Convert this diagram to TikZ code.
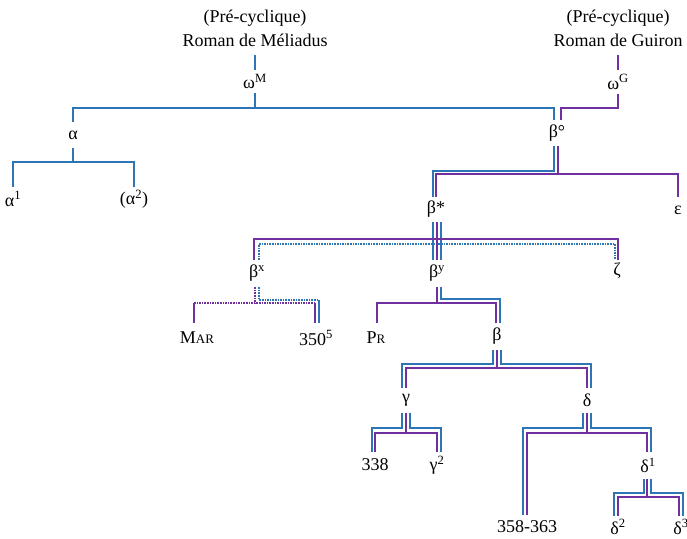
\documentclass[tikz,border=0pt]{standalone}
\usepackage{fontspec}
\setmainfont{Liberation Serif}
\usetikzlibrary{calc}
\definecolor{mblue}{HTML}{2E75B6}
\definecolor{mpurple}{HTML}{7030A0}
\newcommand\smc[1]{{\fontsize{13}{12}\selectfont #1}}
\begin{document}
\begin{tikzpicture}[x=1pt,y=1pt, font=\fontsize{18}{24}\selectfont,
  lab/.style={inner sep=0pt, minimum height=#1, anchor=center},
  lab/.default=24pt,
  head/.style={inner sep=0pt, anchor=south, align=center},
  blu/.style={draw=mblue, line width=1.7pt},
  pur/.style={draw=mpurple, line width=1.7pt},
  dotln/.style={dash pattern=on 1.6pt off 1pt}]
\useasboundingbox (0,0) rectangle (687,538);

% headings
\node[head] (mel) at (255,491) {(Pré-cyclique)\\Roman de Méliadus};
\node[head] (gui) at (618,491) {(Pré-cyclique)\\Roman de Guiron};

% labels
\node[lab=23pt] (wM) at (255,456.5) {ω\textsuperscript{M}};
\node[lab=24pt] (wG) at (618,456) {ω\textsuperscript{G}};
\node[lab=26pt] (al) at (73,403) {α};
\node[lab=24pt] (al1) at (13,339) {α\textsuperscript{1}};
\node[lab=24pt] (al2) at (134,339) {(α\textsuperscript{2})};
\node[lab=26pt] (be0) at (557,405) {β°};
\node[lab=25pt] (bst) at (436,328.5) {β*};
\node[lab=26pt] (eps) at (678,328) {ε};
\node[lab=27pt] (bx) at (257,264.5) {β\textsuperscript{x}};
\node[lab=27pt] (by) at (437,264.5) {β\textsuperscript{y}};
\node[lab=22pt] (zeta) at (617,267) {ζ};
\node[lab=30pt] (mar) at (197,200) {M\smc{AR}};
\node[lab=30pt] (n350) at (316,200) {350\textsuperscript{5}};
\node[lab=30pt] (pr) at (376,200) {P\smc{R}};
\node[lab=27pt] (beta) at (497,201.5) {β};
\node[lab=25pt] (gam) at (406,137.5) {γ};
\node[lab=25pt] (del) at (587,137.5) {δ};
\node[lab=26pt] (n338) at (375,73) {338};
\node[lab=26pt] (gam2) at (437,73) {γ\textsuperscript{2}};
\node[lab=27pt] (del1) at (648,72.5) {δ\textsuperscript{1}};
\node[lab=24pt] (n358) at (527,11) {358-363};
\node[lab=22pt] (del2) at (618,11) {δ\textsuperscript{2}};
\node[lab=22pt] (del3) at (681,11) {δ\textsuperscript{3}};

% dotted connectors (drawn first)
\draw[blu,dotln] ([xshift=2pt]bx.north) |- ([xshift=-3pt,yshift=-22pt]bst.south) -| ([xshift=-2pt]zeta.north);
\draw[pur,dotln] ([xshift=-2pt]bx.south) -- ++(0,-16pt) coordinate (jx);
\draw[pur,dotln] ([xshift=-3pt]mar.north |- jx) -- ([xshift=-1pt]n350.north |- jx);
\draw[blu,dotln] ([xshift=2pt]bx.south) |- ([xshift=3pt,yshift=23pt]n350.north);

% top
\draw[blu] ([yshift=-8pt]mel.south) -- (wM.north);
\draw[pur] ([yshift=-8pt]gui.south) -- (wG.north);
\draw[blu] (wM.south) -- ++(0,-15pt) coordinate (jM);
\draw[blu] (al.north) |- (jM) -| ([xshift=-3pt]be0.north);
\draw[pur] (wG.south) -- ++(0,-14pt) -| ([xshift=4pt]be0.north);

% alpha
\draw[blu] (al.south) -- ++(0,-14pt) coordinate (ja);
\draw[blu] (al1.north) |- (ja) -| (al2.north);

% beta degree
\draw[blu] ([xshift=-3pt]be0.south) -- ++(0,-25pt) -| ([xshift=-3pt]bst.north);
\draw[pur] ([xshift=1pt]be0.south) -- ++(0,-28pt) coordinate (jb);
\draw[pur] (bst.north) |- (jb) -| (eps.north);

% beta star
\draw[pur] ([xshift=1pt]bst.south) -- (by.north);
\draw[blu] ([xshift=-3pt]bst.south) -- ([xshift=-4pt]by.north);
\draw[blu] ([xshift=5pt]bst.south) -- ([xshift=4pt]by.north);
\coordinate (jbs) at ([xshift=1pt,yshift=-17pt]bst.south);
\draw[pur] ([xshift=-3pt]bx.north) |- (jbs) -| ([xshift=1pt]zeta.north);

% beta x
\draw[pur] ([xshift=-3pt]mar.north) -- ([xshift=-3pt]mar.north |- jx);
\draw[pur] ([xshift=-1pt]n350.north) -- ([xshift=-1pt]n350.north |- jx);
\draw[blu] ([xshift=3pt]n350.north) -- ++(0,23pt);

% beta y
\draw[pur] (by.south) -- ++(0,-16pt) coordinate (jy);
\draw[pur] ([xshift=1pt]pr.north) |- (jy) -| ([xshift=-1pt]beta.north);
\draw[blu] ([xshift=4pt]by.south) -- ++(0,-12pt) -| ([xshift=3pt]beta.north);

% beta
\draw[blu] ([xshift=-4pt]beta.south) -- ++(0,-14pt) -| ([xshift=-4pt]gam.north);
\draw[pur] (beta.south) -- ++(0,-18pt) coordinate (jbe);
\draw[pur] (gam.north) |- (jbe) -| (del.north);
\draw[blu] ([xshift=4pt]beta.south) -- ++(0,-14pt) -| ([xshift=4pt]del.north);

% gamma
\draw[blu] ([xshift=-4pt]gam.south) -- ++(0,-15pt) -| ([xshift=-3pt]n338.north);
\draw[pur] (gam.south) -- ++(0,-20pt) coordinate (jg);
\draw[pur] (n338.north) |- (jg) -| (gam2.north);
\draw[blu] ([xshift=4pt]gam.south) -- ++(0,-15pt) -| ([xshift=4pt]gam2.north);

% delta
\draw[blu] ([xshift=-4pt]del.south) -- ++(0,-15pt) -| ([xshift=-4pt]n358.north);
\draw[pur] (del.south) -- ++(0,-20pt) coordinate (jd);
\draw[pur] (n358.north) |- (jd) -| ([xshift=-1pt]del1.north);
\draw[blu] ([xshift=4pt]del.south) -- ++(0,-15pt) -| ([xshift=3pt]del1.north);

% delta 1
\draw[blu] ([xshift=-4pt]del1.south) -- ++(0,-14pt) -| ([xshift=-4pt]del2.north);
\draw[pur] ([xshift=-1pt]del1.south) -- ++(0,-18pt) coordinate (jd1);
\draw[pur] (del2.north) |- (jd1) -| ([xshift=-2pt]del3.north);
\draw[blu] ([xshift=3pt]del1.south) -- ++(0,-14pt) -| ([xshift=2pt]del3.north);
\end{tikzpicture}
\end{document}
